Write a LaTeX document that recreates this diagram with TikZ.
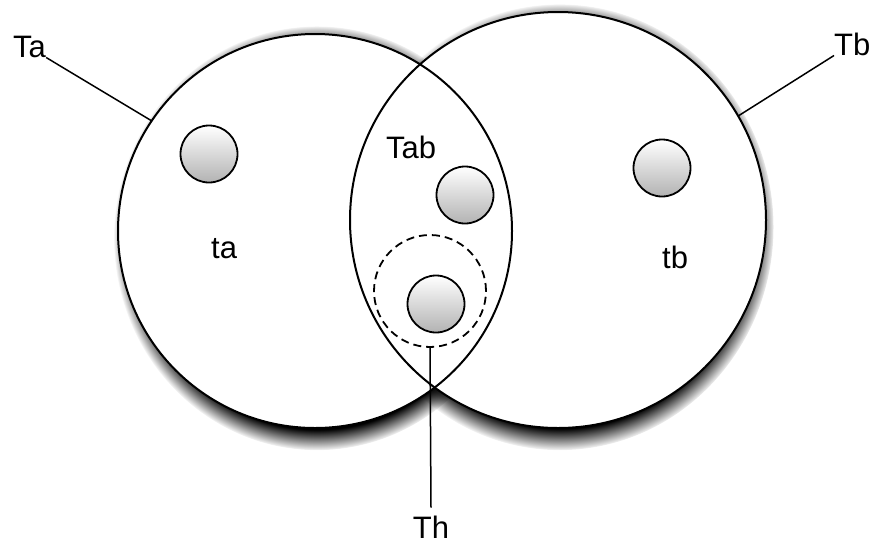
\documentclass[tikz,border=0pt]{standalone}
\usepackage{fontspec}
\setmainfont{Liberation Sans}
\usetikzlibrary{fadings}
\begin{document}
\begin{tikzpicture}[x=1pt,y=-1pt,
  big/.style={circle, inner sep=0pt, outer sep=0pt},
  rim/.style={line width=2pt},
  ball/.style={circle, inner sep=0pt, minimum size=57pt, draw, line width=1.8pt, top color=white, middle color=black!8, bottom color=black!30},
  lbl/.style={font=\fontsize{31}{36}\selectfont, inner sep=0pt},
  lead/.style={line width=1.5pt},
  shadowfill/.style={black, opacity=1, path fading=circle with fuzzy edge 10 percent}]
\useasboundingbox (0,0) rectangle (875,542);
% shadows
\fill[shadowfill] (317,238) ellipse [x radius=203pt, y radius=212pt];
\fill[shadowfill] (560,227) ellipse [x radius=214pt, y radius=223pt];
% big circles
\node[big, minimum size=394pt, fill=white] (A) at (315,231) {};
\node[big, minimum size=416pt, fill=white] (B) at (558,220) {};
\draw[rim] (A.center) circle (197pt);
\draw[rim] (B.center) circle (208pt);
% balls
\node[ball] (ba) at (209,154) {};
\node[ball] (bab) at (465,195) {};
\node[ball] (bb) at (662,168) {};
\node[ball] (bh) at (436,304) {};
\node[circle, draw, inner sep=0pt, outer sep=0pt, minimum size=112pt, line width=1.8pt, dash pattern=on 8pt off 5pt] (D) at (430,291) {};
% labels
\node[lbl, anchor=base west] (Ta) at (13,57) {Ta};
\node[lbl, anchor=base west] (Tb) at (834,55) {Tb};
\node[lbl, anchor=base west] (Tab) at (386,158) {Tab};
\node[lbl, anchor=base west] (ta) at (211,258) {ta};
\node[lbl, anchor=base west] (tb) at (662,268) {tb};
\node[lbl, anchor=base, outer ysep=8pt] (Th) at (431,538) {Th};
% leaders
\draw[lead] (Ta.south east) -- (A.146.6);
\draw[lead] (Tb.south west) -- (B.30.7);
\draw[lead] (D.south) -- (Th.north);
\end{tikzpicture}
\end{document}
